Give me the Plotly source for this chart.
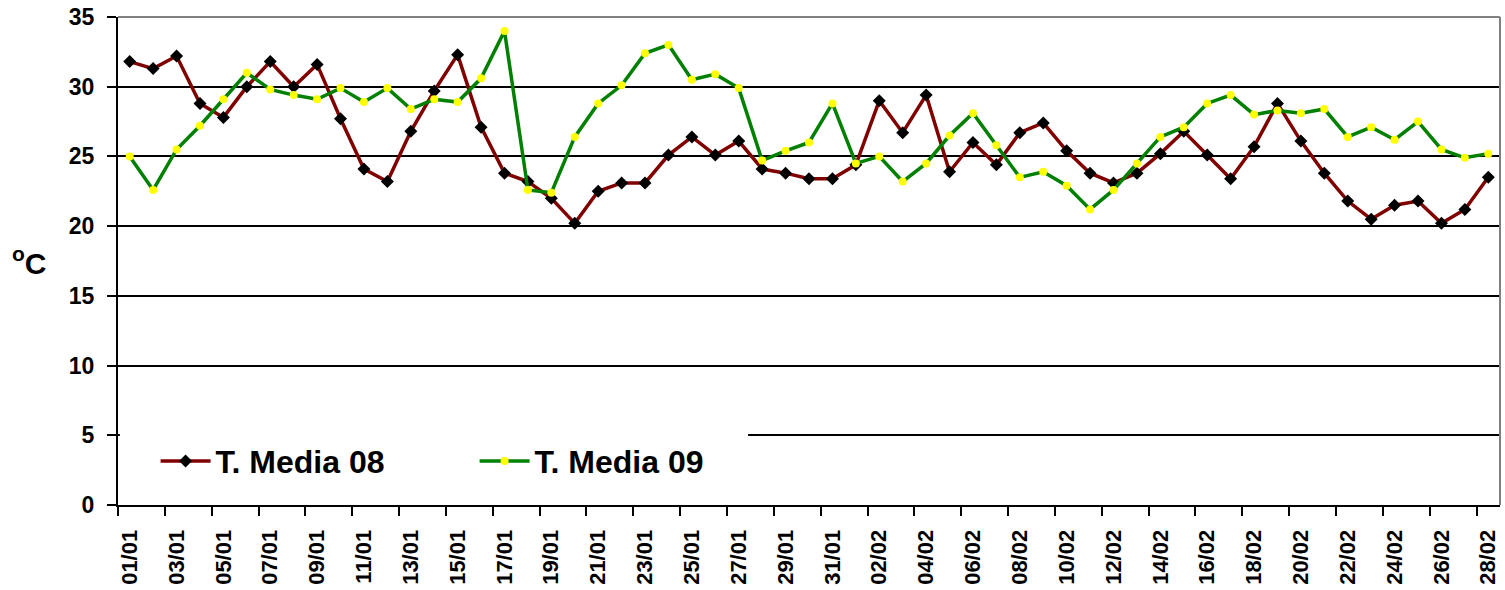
import plotly.graph_objects as go

# ---- data ----
days = [f"{d:02d}/01" for d in range(1, 32)] + [f"{d:02d}/02" for d in range(1, 29)]

t_media_08 = [31.8, 31.3, 32.2, 28.8, 27.8, 30.0, 31.8, 30.0, 31.6, 27.7,
              24.1, 23.2, 26.8, 29.7, 32.3, 27.1, 23.8, 23.2, 22.0, 20.2,
              22.5, 23.1, 23.1, 25.1, 26.4, 25.1, 26.1, 24.1, 23.8, 23.4,
              23.4, 24.4, 29.0, 26.7, 29.4, 23.9, 26.0, 24.4, 26.7, 27.4,
              25.4, 23.8, 23.1, 23.8, 25.2, 26.8, 25.1, 23.4, 25.7, 28.8,
              26.1, 23.8, 21.8, 20.5, 21.5, 21.8, 20.2, 21.2, 23.5]

t_media_09 = [25.0, 22.6, 25.5, 27.2, 29.1, 31.0, 29.8, 29.4, 29.1, 29.9,
              28.9, 29.9, 28.4, 29.1, 28.9, 30.6, 34.0, 22.6, 22.4, 26.4,
              28.8, 30.1, 32.4, 33.0, 30.5, 30.9, 29.9, 24.7, 25.4, 26.0,
              28.8, 24.5, 25.0, 23.2, 24.5, 26.5, 28.1, 25.8, 23.5, 23.9,
              22.9, 21.2, 22.6, 24.5, 26.4, 27.1, 28.8, 29.4, 28.0, 28.3,
              28.1, 28.4, 26.4, 27.1, 26.2, 27.5, 25.5, 24.9, 25.2]

y_ticks = [0, 5, 10, 15, 20, 25, 30, 35]

# ---- figure ----
FONT = "Liberation Sans, Arial, sans-serif"
idx = list(range(len(days)))

fig = go.Figure()
fig.add_trace(go.Scatter(
    x=idx, y=t_media_08, name="T. Media 08", mode="lines+markers",
    line=dict(color="#800000", width=3.5),
    marker=dict(symbol="diamond", size=10, color="black"),
))
fig.add_trace(go.Scatter(
    x=idx, y=t_media_09, name="T. Media 09", mode="lines+markers",
    line=dict(color="#008000", width=3.5),
    marker=dict(symbol="circle", size=8, color="#ffff00"),
))

fig.update_layout(
    width=1505, height=590,
    margin=dict(l=118, r=5, t=17, b=85),
    paper_bgcolor="white", plot_bgcolor="white",
    font=dict(family=FONT, color="black"),
    showlegend=True,
    legend=dict(
        orientation="h", x=0.0272, y=0.09, xanchor="left", yanchor="middle",
        bgcolor="rgba(0,0,0,0)", borderwidth=0,
        font=dict(family=FONT, size=32, color="black", weight="bold"),
        itemwidth=50,
        entrywidth=254, entrywidthmode="pixels",
        traceorder="normal",
    ),
    xaxis=dict(
        range=[-0.5, 58.5], automargin=False,
        tickmode="array",
        tickvals=idx[::2], ticktext=days[::2],
        tickangle=-90,
        ticks="", ticklabelstandoff=14, ticklabeloverflow="allow",
        tickfont=dict(family=FONT, size=22, color="black", weight="bold"),
        showgrid=False, zeroline=False,
        showline=True, linecolor="black", linewidth=2,
        minor=dict(tickmode="array", tickvals=[i - 0.5 for i in idx[::2]],
                   ticks="outside", ticklen=9, tickwidth=2, tickcolor="black",
                   showgrid=False),
    ),
    yaxis=dict(
        range=[0, 35], automargin=False,
        tickmode="array", tickvals=y_ticks,
        ticks="outside", ticklen=9, tickwidth=2, tickcolor="black",
        ticklabelstandoff=8, ticklabeloverflow="allow",
        tickfont=dict(family=FONT, size=23, color="black", weight="bold"),
        showgrid=True, gridcolor="black", gridwidth=2,
        zeroline=False,
        showline=True, linecolor="black", linewidth=2,
    ),
    annotations=[dict(
        text="<sup>o</sup>C", xref="paper", yref="paper",
        x=-0.0637, y=0.5, xanchor="center", yanchor="middle",
        showarrow=False,
        font=dict(family=FONT, size=30, color="black", weight="bold"),
    )],
    shapes=[
        # white patch where the legend box hides the 5-gridline
        dict(type="rect", xref="x", yref="y", x0=-0.42, x1=26.4, y0=4.75, y1=5.25,
             fillcolor="white", line=dict(width=0), layer="above"),
        # grey plot-area border (top and right)
        dict(type="line", xref="paper", yref="paper", x0=0, x1=1, y0=1, y1=1,
             line=dict(color="#808080", width=2), layer="above"),
        dict(type="line", xref="paper", yref="paper", x0=1, x1=1, y0=0, y1=1,
             line=dict(color="#808080", width=2), layer="above"),
    ],
)

# remove the page's default body margin so the figure fills the window exactly
fig.write_html("out.html",
               config={"displayModeBar": False},
               post_script="document.body.style.margin='0';document.body.style.overflow='hidden';")
